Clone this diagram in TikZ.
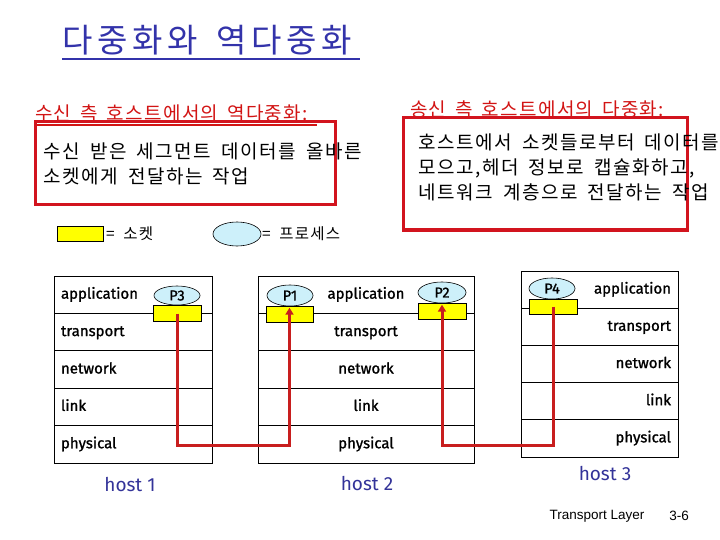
\documentclass[tikz,border=0pt]{standalone}
\usepackage{fontspec}
\usetikzlibrary{arrows.meta,shapes.geometric}
\newfontfamily\kr[WordSpace=1.8,LetterSpace=8]{Noto Sans CJK KR}
\newfontfamily\krhead[WordSpace=1.6,LetterSpace=7]{Noto Sans CJK KR}
\newfontfamily\krtitle[WordSpace=1.6,LetterSpace=14]{Noto Sans CJK KR}
\newfontfamily\layerfont[FakeBold=1.2]{Fira Sans}
\newfontfamily\hostfont{Fira Sans}
\newfontfamily\arialf{Liberation Sans}
\definecolor{titleblue}{RGB}{51,51,170}
\definecolor{hostblue}{RGB}{51,51,153}
\definecolor{headred}{RGB}{210,20,20}
\definecolor{boxred}{RGB}{210,20,30}
\definecolor{arrowred}{RGB}{200,30,30}
\definecolor{sockyellow}{RGB}{255,255,0}
\definecolor{proccyan}{RGB}{205,240,250}
\tikzset{
  rowbox/.style={draw=black, line width=0.9pt, inner xsep=7, inner ysep=0,
    font=\layerfont\fontsize{15}{15}\selectfont, text height=11, text depth=3},
  sock/.style={draw=black, line width=0.6pt, fill=sockyellow, minimum width=48, minimum height=16, inner sep=0},
  proc/.style={ellipse, draw=black, line width=0.6pt, fill=proccyan, minimum width=46, minimum height=20, inner sep=0,
    font=\layerfont\fontsize{14.5}{14.5}\selectfont},
  redline/.style={draw=arrowred, line width=3, line join=miter},
  redbox/.style={draw=boxred, line width=3},
  headtxt/.style={anchor=base west, inner sep=0, text=headred, font=\krhead\fontsize{19}{19}\selectfont},
  bodytxt/.style={anchor=base west, inner sep=0, text=black, font=\kr\fontsize{19}{19}\selectfont},
  legtxt/.style={anchor=base west, inner sep=0, text=black, font=\kr\fontsize{15.5}{15.5}\selectfont},
  hosttxt/.style={inner sep=0, text=hostblue, font=\hostfont\fontsize{19}{19}\selectfont},
  foottxt/.style={inner sep=0, text=black, font=\arialf\fontsize{13.5}{13.5}\selectfont}
}
\begin{document}
\begin{tikzpicture}[x=1pt,y=-1pt]
\useasboundingbox[fill=white] (0,0) rectangle (720,540);

% title
\node[anchor=base west, inner sep=0, text=titleblue, font=\krtitle\fontsize{33}{33}\selectfont] (title) at (62,53) {다중화와 역다중화};
\draw[titleblue, line width=2.5] (62,59) -- (360,59);

% headings
\node[headtxt] (hl) at (35,121) {수신 측 호스트에서의 역다중화:};
\draw[headred, line width=2] (35,125) -- (317,125);
\node[headtxt] (hr) at (410,117) {송신 측 호스트에서의 다중화:};
\draw[headred, line width=2] (410,118) -- (673,118);

% red boxes
\draw[redbox] (35,122) rectangle (335,205);
\draw[redbox] (403,118) rectangle (687,230);

% box texts
\node[bodytxt] (l1) at (43,159) {수신 받은 세그먼트 데이터를 올바른};
\node[bodytxt] (l2) at (43,184) {소켓에게 전달하는 작업};
\node[bodytxt] (r1) at (418,150) {호스트에서 소켓들로부터 데이터를};
\node[bodytxt] (r2) at (418,175) {모으고,헤더 정보로 캡슐화하고,};
\node[bodytxt] (r3) at (418,200) {네트워크 계층으로 전달하는 작업};

% legend
\node[sock, minimum width=46, minimum height=15] (legsock) at (80,233.5) {};
\node[legtxt] (legsockt) at (106,240) {= 소켓};
\node[proc, minimum width=48, minimum height=24] (legproc) at (237,234) {};
\node[legtxt] (legproct) at (262,240) {= 프로세스};

% host 1
\foreach \t [count=\i] in {application,transport,network,link,physical}
  \node[rowbox, minimum height=37.4, text width=144, align=left] (h1r\i) at (133,{294.7+37.4*(\i-1)}) {\t};
% host 2
\foreach \t [count=\i] in {application,transport,network,link,physical}
  \node[rowbox, minimum height=37.4, text width=202, align=center] (h2r\i) at (366,{294.7+37.4*(\i-1)}) {\t};
% host 3
\foreach \t [count=\i] in {application,transport,network,link,physical}
  \node[rowbox, minimum height=37.2, text width=143, align=right] (h3r\i) at (599.5,{289.6+37.2*(\i-1)}) {\t};

% processes and sockets
\node[sock] (s3) at (177,313.5) {};
\node[proc, minimum height=19] (p3) at (177,295.5) {P3};
\node[sock, minimum width=47] (s1) at (289.5,314) {};
\node[proc, minimum height=21] (p1) at (290,295.5) {P1};
\node[sock] (s2) at (442,311) {};
\node[proc, minimum width=48, minimum height=21] (p2) at (442,292.5) {P2};
\node[sock, minimum height=15] (s4) at (553,306.5) {};
\node[proc, minimum height=21] (p4) at (552,288.5) {P4};

% connectors
\coordinate (low) at (0,445);
\draw[redline, -{Triangle[length=7pt,width=8pt]}] (s3.center) -- (s3.center |- low) -| ([yshift=-2pt]s1.north);
\draw[redline, -{Triangle[length=7pt,width=8pt]}] (s4.center) -- (s4.center |- low) -| ([yshift=-2pt]s2.north);

% host labels
\node[hosttxt] (hl1) at (130,485) {host 1};
\node[hosttxt] (hl2) at (367,484) {host 2};
\node[hosttxt] (hl3) at (605,474) {host 3};

% footer
\node[foottxt] (ft) at (597,516) {Transport Layer};
\node[foottxt] (pg) at (679,516) {3-6};
\end{tikzpicture}
\end{document}
